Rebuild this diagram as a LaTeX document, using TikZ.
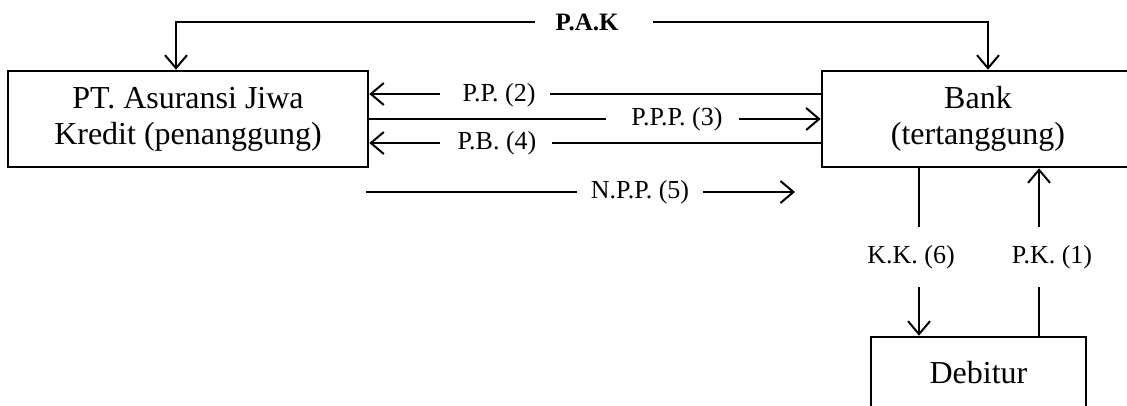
\documentclass[tikz,border=0pt]{standalone}
\usepackage{fontspec}
\setmainfont{Liberation Serif}
\usetikzlibrary{arrows.meta}
\begin{document}
\begin{tikzpicture}[x=1pt,y=-1pt,
  box/.style={draw,line width=2.6pt,align=center,inner sep=0pt,font=\fontsize{32}{36}\selectfont},
  lab/.style={inner sep=0pt,font=\fontsize{26}{30}\selectfont},
  conn/.style={line width=2.2pt},
  arr/.style={conn,-{Straight Barb[length=13pt,width=22pt,line width=2pt]}}
]
\useasboundingbox (0,0) rectangle (1127,405);
\clip (0,0) rectangle (1127,405);

% boxes
\node[box,minimum width=360pt,minimum height=96pt] (asj) at (188,119) {PT. Asuransi Jiwa\\Kredit (penanggung)};
\node[box,minimum width=312pt,minimum height=96pt] (bank) at (978,119) {Bank\\(tertanggung)};
\node[box,minimum width=215pt,minimum height=72pt] (deb) at (978.5,373) {Debitur};

% labels
\node[lab,font=\bfseries\fontsize{25}{30}\selectfont] (pak) at (587,22) {P.A.K};
\node[lab] (pp) at (499,95) {P.P. (2)};
\node[lab] (ppp) at (677,119) {P.P.P. (3)};
\node[lab] (pb) at (497,143) {P.B. (4)};
\node[lab] (npp) at (640,192) {N.P.P. (5)};
\node[lab] (kk) at (911,257) {K.K. (6)};
\node[lab] (pk) at (1052,257) {P.K. (1)};

% free ends of the interrupted connectors
\coordinate (pakL) at (535,22);
\coordinate (pakR) at (653,22);
\coordinate (ppL) at (440,94);
\coordinate (ppR) at (550,94);
\coordinate (pppL) at (606,119);
\coordinate (pppR) at (739,119);
\coordinate (pbL) at (440,143);
\coordinate (pbR) at (552,143);
\coordinate (nppA) at (366,192);
\coordinate (nppB) at (577,192);
\coordinate (nppC) at (703,192);
\coordinate (nppD) at (795,192);
\coordinate (kkT) at (919,227);
\coordinate (kkB) at (919,287);
\coordinate (pkT) at (1039,227);
\coordinate (pkB) at (1039,287);

% P.A.K
\draw[arr] (pakL) -| ([xshift=-12pt]asj.north);
\draw[arr] (pakR) -| ([xshift=10pt]bank.north);

% P.P. (2)
\draw[conn] (bank.west |- ppR) -- (ppR);
\draw[arr] (ppL) -- (asj.east |- ppL);

% P.P.P. (3)
\draw[conn] (asj.east |- pppL) -- (pppL);
\draw[arr] (pppR) -- (bank.west |- pppR);

% P.B. (4)
\draw[conn] (bank.west |- pbR) -- (pbR);
\draw[arr] (pbL) -- (asj.east |- pbL);

% N.P.P. (5)
\draw[conn] (nppA) -- (nppB);
\draw[arr] (nppC) -- (nppD);

% K.K. (6)
\draw[conn] (bank.south -| kkT) -- (kkT);
\draw[arr] (kkB) -- (deb.north -| kkB);

% P.K. (1)
\draw[conn,line width=1.6pt] (deb.north -| pkB) -- (pkB);
\draw[arr] (pkT) -- (bank.south -| pkT);
\end{tikzpicture}
\end{document}
